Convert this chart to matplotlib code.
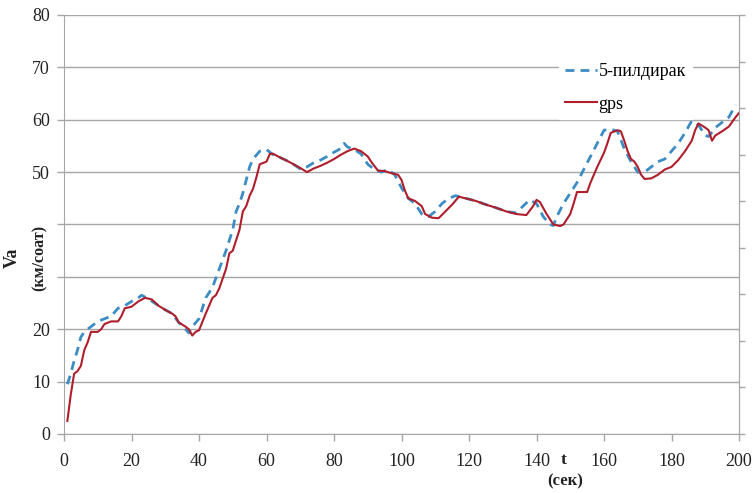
import matplotlib
matplotlib.use("Agg")
import matplotlib.pyplot as plt

t_gps = [1, 2, 3, 4, 5, 6, 7, 8, 10, 11, 12, 14, 16, 17, 18, 20, 22, 24, 26, 28, 30, 32, 33, 34, 36, 37, 38, 39, 40,
         42, 44, 45, 46, 48, 49, 50, 52, 53, 54, 55, 56, 57, 58, 60, 61, 62, 64, 66, 68, 70, 72, 74, 76, 78, 80,
         82, 84, 86, 88, 90, 91, 93, 95, 97, 99, 100, 101, 102, 104, 106, 107, 109, 111, 113, 115, 117, 119, 122,
         125, 128, 131, 134, 137, 139, 140, 141, 143, 145, 147, 148, 150, 151, 152, 155, 156, 158, 160, 161, 162,
         164, 165, 166, 167, 168, 169, 170, 171, 172, 174, 176, 178, 180, 182, 184, 186, 187, 188, 190, 191, 192,
         193, 195, 197, 199, 200]
v_gps = [2.5, 7.5, 11.5, 12, 13, 16, 17.5, 19.5, 19.5, 20, 21, 21.5, 21.5, 22.5, 24, 24.3, 25.3, 26, 25.7, 24.5,
         23.7, 23, 22.5, 21.3, 20.5, 20, 18.8, 19.5, 19.8, 23, 26, 26.5, 27.8, 31.5, 34.5, 35, 39, 42.5, 43.5,
         45.5, 46.8, 49, 51.5, 52, 53.5, 53.5, 52.8, 52.2, 51.5, 50.8, 50, 50.7, 51.2, 51.8, 52.5, 53.3, 54, 54.5,
         54, 53, 52, 50.3, 50.2, 49.8, 49.5, 48.5, 46.5, 45, 44.5, 43.5, 42, 41.3, 41.2, 42.5, 43.8, 45.3, 45,
         44.5, 43.8, 43.2, 42.5, 42, 41.8, 43.5, 44.7, 44.3, 42, 40, 39.7, 40, 42, 44, 46.2, 46.2, 48, 51, 53.7,
         55.5, 57.5, 58, 57.8, 56, 54, 52.5, 52, 51, 49.5, 48.7, 48.8, 49.5, 50.5, 51, 52.3, 54, 56, 58, 59.3,
         58.5, 58, 56, 57, 57.8, 58.7, 60.5, 61.3]

t_pil = [1, 2, 3, 4, 5, 6, 8, 10, 12, 14, 16, 18, 20, 22, 23, 25, 28, 30, 32, 34, 36, 37, 38, 40, 42, 44, 46, 48,
         50, 51, 52, 53, 54, 55, 56, 58, 60, 62, 64, 66, 68, 70, 72, 74, 76, 78, 80, 82, 83, 84, 86, 88, 90, 92,
         94, 96, 98, 100, 102, 104, 106, 108, 110, 112, 114, 116, 119, 122, 125, 128, 131, 134, 136, 138, 140,
         142, 144, 145, 146, 148, 150, 152, 154, 156, 158, 160, 162, 164, 166, 168, 170, 172, 174, 176, 178, 180,
         182, 184, 186, 188, 190, 191, 193, 195, 197, 199]
v_pil = [9.5, 11.5, 14, 16, 18.5, 19.5, 20.5, 21.5, 22, 22.5, 24, 24.5, 25.3, 26, 26.5, 25.8, 24.5, 23.7, 23,
         21.3, 20, 19.3, 20.5, 22, 26, 28, 31.5, 35, 39, 42.5, 44, 46, 48.5, 51, 52.5, 54, 54.3, 53.3, 52.8, 52.2,
         51.5, 50.6, 51, 51.8, 52.3, 53, 53.8, 54.5, 55.5, 54.8, 54.3, 53.5, 51.5, 50.5, 50, 50.5, 49.5, 47, 45,
         44, 42, 41.5, 42.5, 44, 45, 45.5, 45, 44.5, 43.8, 43.2, 42.5, 42.2, 43.5, 44.7, 44, 41.5, 40, 39.8, 41.5,
         44, 46, 48, 50.5, 53, 55.5, 58, 58.2, 57.8, 54.5, 52, 50, 50, 51, 52, 52.5, 54, 55.5, 57.5, 59.8, 59, 57,
         56.8, 58.5, 59.5, 60.5, 62.8]

x_ticks = [0, 20, 40, 60, 80, 100, 120, 140, 160, 180, 200]
y_ticks = [0, 10, 20, 30, 40, 50, 60, 70, 80]
y_tick_labels = ["0", "10", "20", "", "", "50", "60", "70", "80"]

serif = ["Liberation Serif", "DejaVu Serif"]
plt.rcParams["font.family"] = serif

fig = plt.figure(figsize=(7.55, 4.93), dpi=100)
ax = fig.add_axes([64 / 755, 1 - 434 / 493, (739 - 64) / 755, (434 - 15) / 493])

grid_c = "#a6a6a6"
for yv in y_ticks:
    ax.axhline(yv, color=grid_c, lw=1.0, zorder=1)

ax.plot(t_pil, v_pil, color="#3d8cc4", lw=2.0, ls=(0, (3.2, 2.2)), label="5-пилдирак", zorder=3)
ax.plot(t_gps, v_gps, color="#b01e2c", lw=1.5, label="gps", zorder=4)

ax.set_xlim(0, 200)
ax.set_ylim(0, 80)
ax.set_xticks(x_ticks)
ax.set_yticks(y_ticks)
ax.set_yticklabels(y_tick_labels)
ax.tick_params(axis="both", colors=grid_c, labelcolor="#222222", labelsize=13, length=5, width=1)
ax.tick_params(axis="y", pad=5)
ax.tick_params(axis="x", pad=8.5)
ax.spines["top"].set_visible(False)
for s in ["left", "bottom", "right"]:
    ax.spines[s].set_color(grid_c)

ax2 = ax.twinx()
ax2.set_ylim(0, 9)
ax2.set_yticks(range(10))
ax2.set_yticklabels([])
ax2.tick_params(axis="y", colors=grid_c, length=4, width=1)
for s in ["top", "left", "bottom"]:
    ax2.spines[s].set_visible(False)
ax2.spines["right"].set_color(grid_c)

leg = ax.legend(loc="upper left", bbox_to_anchor=(559 / 755, 1 - 57 / 493), bbox_transform=fig.transFigure,
                frameon=True, fancybox=False, framealpha=1, edgecolor="white", facecolor="white",
                fontsize=13, handlelength=1.75, handletextpad=0.1, labelspacing=0.85, borderpad=0.35,
                borderaxespad=0)
leg.set_zorder(5)

fig.text(12 / 755, 1 - 258 / 493, "Va", rotation=90, ha="center", va="center", fontsize=13,
         fontweight="bold", color="#222222")
fig.text(40 / 755, 1 - 258 / 493, "(км/соат)", rotation=90, ha="center", va="center", fontsize=11.5,
         fontweight="bold", color="#222222")
fig.text(564 / 755, 1 - 460 / 493, "t", ha="center", va="center", fontsize=12.5, fontweight="bold", color="#222222")
fig.text(565 / 755, 1 - 481 / 493, "(сек)", ha="center", va="center", fontsize=12, fontweight="bold",
         color="#222222")

fig.savefig("out.png", dpi=100, facecolor="white")
